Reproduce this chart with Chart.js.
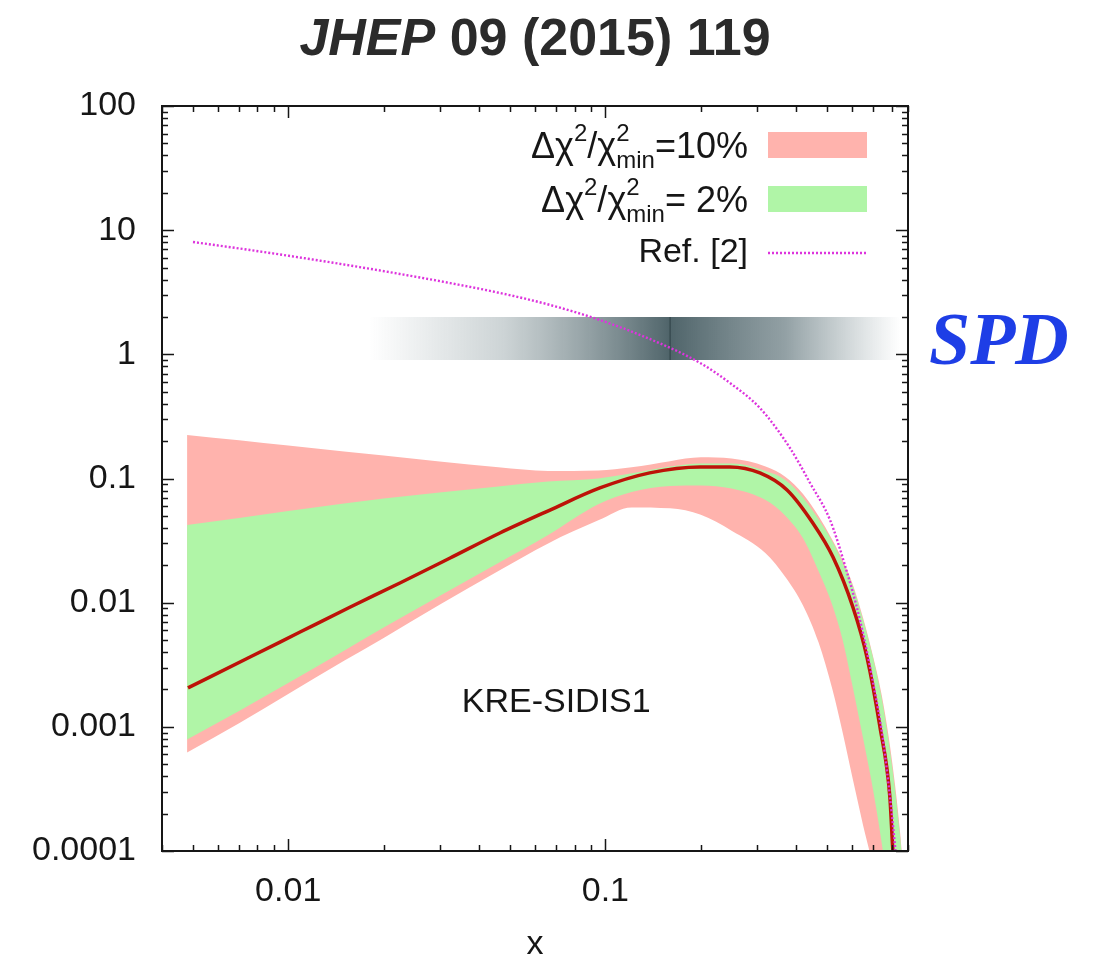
<!DOCTYPE html>
<html>
<head>
<meta charset="utf-8">
<script src="https://cdn.jsdelivr.net/npm/chart.js@4.4.0/dist/chart.umd.min.js"></script>
<style>
  html, body { margin: 0; padding: 0; background: #fff; }
  #wrap { position: relative; width: 1093px; height: 962px; }
  #title { position: absolute; left: 0; top: 11px; width: 1070px; text-align: center;
           font: bold 52px "Liberation Sans", Arial, sans-serif; line-height: 52px; color: #2b2b2b; }
  #spd { position: absolute; left: 929px; top: 302px;
         font: italic bold 74px "Liberation Serif", "Times New Roman", serif; line-height: 74px; color: #1e3ee6; }
</style>
</head>
<body>
<div id="wrap">
  <canvas id="myChart" width="1093" height="962"></canvas>
  <div id="title"><i>JHEP</i> 09 (2015) 119</div>
  <div id="spd">SPD</div>
</div>
<script>
// central fit
var centralX = [0.00483, 0.00758, 0.0109, 0.0157, 0.0225, 0.0324, 0.0465, 0.0669, 0.0961, 0.138, 0.199,
                0.247, 0.307, 0.374, 0.451, 0.522, 0.603, 0.668, 0.734, 0.789, 0.806, 0.848];
var central = [0.00206, 0.00365, 0.0058, 0.00923, 0.0144, 0.0229, 0.0364, 0.0557, 0.0839, 0.111, 0.124,
               0.124, 0.111, 0.0809, 0.0438, 0.0233, 0.00923, 0.00365, 0.001, 0.000272, 0.000102, 0.000016];

// x grid shared by both uncertainty bands
var xGrid = [0.0048, 0.007, 0.01, 0.015, 0.02, 0.03, 0.046, 0.066, 0.095, 0.121, 0.16, 0.2, 0.25,
             0.32, 0.37, 0.42, 0.47, 0.52, 0.56, 0.6, 0.65, 0.7, 0.75, 0.8, 0.85, 0.9];
var band2Up = [0.0423, 0.048, 0.0547, 0.063, 0.069, 0.077, 0.0862, 0.0945, 0.1, 0.11, 0.125, 0.132, 0.132,
               0.115, 0.097, 0.07, 0.047, 0.031, 0.021, 0.014, 0.0072, 0.0035, 0.0015, 0.0005, 0.00013, 0.00002];
var band2Lo = [0.00079, 0.00134, 0.00225, 0.0041, 0.0063, 0.0113, 0.0209, 0.0351, 0.062, 0.078, 0.087, 0.088, 0.083,
               0.067, 0.05, 0.033, 0.018, 0.0095, 0.005, 0.0022, 0.0008, 0.0003, 0.0001, 0.00003, 0.000005, 0.000001];
var band10Up = [0.224, 0.203, 0.184, 0.165, 0.153, 0.137, 0.123, 0.115, 0.116, 0.123, 0.138, 0.148, 0.145,
                0.125, 0.103, 0.075, 0.05, 0.032, 0.022, 0.0145, 0.0075, 0.0036, 0.0016, 0.00055, 0.00014, 0.00002];
var band10Lo = [0.00062, 0.00107, 0.00184, 0.0034, 0.0052, 0.0096, 0.018, 0.03, 0.046, 0.0585, 0.0575, 0.051, 0.038,
                0.025, 0.016, 0.0095, 0.0048, 0.002, 0.0009, 0.0004, 0.00016, 0.00007, 0.00002, 0.000005, 0.000001, 0.0000001];

// Ref. [2] curve
var refX = [0.00501, 0.00758, 0.0109, 0.0157, 0.0225, 0.0324, 0.0465, 0.0669, 0.0961, 0.138, 0.199, 0.247,
            0.307, 0.382, 0.442, 0.511, 0.569, 0.635, 0.7, 0.75, 0.8, 0.85];
var refY = [8.03, 6.92, 6.02, 5.19, 4.44, 3.75, 3.12, 2.5, 1.89, 1.33, 0.852, 0.588,
            0.37, 0.176, 0.092, 0.0463, 0.0201, 0.00725, 0.0022, 0.0008, 0.0002, 0.00004];

// SPD coverage strip
var spdX = [0.018, 0.85];
var spdTop = [2, 2];
var spdBottom = [0.9, 0.9];
var spdMark = 0.16;

var xTicks = [0.01, 0.1];
var yTicks = [0.0001, 0.001, 0.01, 0.1, 1, 10, 100];

var FONT = '"Liberation Sans", Arial, sans-serif';
var INK = '#161616';
var PINK = '#ffb3ad';
var GREEN = '#b0f5a7';
var MAGENTA = '#dd34dd';

function pts(xs, ys) {
  return xs.map(function (x, i) { return { x: x, y: ys[i] }; });
}

function fmt(v) {
  var e = Math.round(Math.log10(v));
  return e >= 0 ? String(Math.pow(10, e)) : '0.' + '0'.repeat(-e - 1) + '1';
}

function spdGradient(c) {
  var chart = c.chart;
  var xs = chart.scales.x;
  if (!chart.chartArea || !xs) return 'rgba(0,0,0,0)';
  var x0 = xs.getPixelForValue(spdX[0]), x1 = xs.getPixelForValue(spdX[1]);
  var mid = (xs.getPixelForValue(spdMark) - x0) / (x1 - x0);
  var g = chart.ctx.createLinearGradient(x0, 0, x1, 0);
  g.addColorStop(0, 'rgba(110,130,135,0)');
  g.addColorStop(mid * 0.45, 'rgba(110,130,135,0.35)');
  g.addColorStop(mid, 'rgba(70,92,98,0.95)');
  g.addColorStop(mid + (1 - mid) * 0.5, 'rgba(100,120,126,0.7)');
  g.addColorStop(1, 'rgba(120,140,145,0)');
  return g;
}

// draws Δχ²/χ²_min=... right aligned at (right, base)
function drawChiLabel(ctx, tail, right, base) {
  var big = '36px ' + FONT, small = '24px ' + FONT;
  var parts = [
    { t: 'Δχ', f: big, dy: 0 },
    { t: '2', f: small, dy: -17 },
    { t: '/', f: big, dy: 0 },
    { t: 'χ', f: big, dy: 0 },
    { t: '2', f: small, dy: -17, stack: 'min' },
    { t: tail, f: big, dy: 0 }
  ];
  var total = 0;
  parts.forEach(function (p) {
    ctx.font = p.f;
    p.w = ctx.measureText(p.t).width;
    if (p.stack) p.w = Math.max(p.w, ctx.measureText(p.stack).width);
    total += p.w;
  });
  var x = right - total;
  ctx.textAlign = 'left';
  ctx.textBaseline = 'alphabetic';
  parts.forEach(function (p) {
    ctx.font = p.f;
    ctx.fillText(p.t, x, base + p.dy);
    if (p.stack) ctx.fillText(p.stack, x, base + 10);
    x += p.w;
  });
}

var frameTicks = {
  id: 'frameTicks',
  afterDraw: function (chart) {
    var ctx = chart.ctx, a = chart.chartArea, xs = chart.scales.x, ys = chart.scales.y;
    ctx.save();
    ctx.strokeStyle = INK;
    ctx.lineWidth = 1.5;
    ctx.beginPath();
    var e, m, v, p, len;
    for (e = -3; e <= 0; e++) {
      for (m = 1; m <= 9; m++) {
        v = m * Math.pow(10, e);
        if (v < xs.min || v > xs.max) continue;
        p = Math.round(xs.getPixelForValue(v)) + 0.5;
        len = m === 1 ? 12 : 6;
        ctx.moveTo(p, a.bottom); ctx.lineTo(p, a.bottom - len);
        ctx.moveTo(p, a.top); ctx.lineTo(p, a.top + len);
      }
    }
    for (e = -4; e <= 2; e++) {
      for (m = 1; m <= 9; m++) {
        v = m * Math.pow(10, e);
        if (v < ys.min || v > ys.max) continue;
        p = Math.round(ys.getPixelForValue(v)) + 0.5;
        len = m === 1 ? 12 : 6;
        ctx.moveTo(a.left, p); ctx.lineTo(a.left + len, p);
        ctx.moveTo(a.right, p); ctx.lineTo(a.right - len, p);
      }
    }
    ctx.stroke();
    ctx.lineWidth = 2;
    ctx.strokeRect(a.left, a.top, a.right - a.left, a.bottom - a.top);

    // key
    ctx.fillStyle = INK;
    drawChiLabel(ctx, '=10%', 748, 158);
    drawChiLabel(ctx, '=\u00a02%', 748, 212);
    ctx.font = '34px ' + FONT;
    ctx.textAlign = 'right';
    ctx.fillText('Ref. [2]', 748, 262);
    ctx.fillStyle = PINK;
    ctx.fillRect(768, 132, 99, 26);
    ctx.fillStyle = GREEN;
    ctx.fillRect(768, 186, 99, 26);
    ctx.strokeStyle = MAGENTA;
    ctx.lineWidth = 2.4;
    ctx.setLineDash([2, 2]);
    ctx.beginPath();
    ctx.moveTo(768, 253); ctx.lineTo(867, 253);
    ctx.stroke();
    ctx.setLineDash([]);

    // fit label
    ctx.fillStyle = INK;
    ctx.font = '34px ' + FONT;
    ctx.textAlign = 'center';
    ctx.textBaseline = 'middle';
    ctx.fillText('KRE-SIDIS1', xs.getPixelForValue(0.07), ys.getPixelForValue(0.00156));
    ctx.restore();
  }
};

var ctx = document.getElementById('myChart').getContext('2d');
var myChart = new Chart(ctx, {
  type: 'line',
  data: {
    datasets: [{
      label: 'Ref. [2]',
      data: pts(refX, refY),
      borderColor: MAGENTA,
      borderWidth: 2.4,
      borderDash: [2, 2],
      fill: false,
      order: 1
    }, {
      label: 'fit',
      data: pts(centralX, central),
      borderColor: '#bd1208',
      borderWidth: 3.5,
      fill: false,
      order: 2
    }, {
      label: '2% upper',
      data: pts(xGrid, band2Up),
      borderWidth: 0,
      borderColor: 'rgba(0,0,0,0)',
      backgroundColor: GREEN,
      fill: '+1',
      order: 3
    }, {
      label: '2% lower',
      data: pts(xGrid, band2Lo),
      borderWidth: 0,
      borderColor: 'rgba(0,0,0,0)',
      fill: false,
      order: 3
    }, {
      label: '10% upper',
      data: pts(xGrid, band10Up),
      borderWidth: 0,
      borderColor: 'rgba(0,0,0,0)',
      backgroundColor: PINK,
      fill: '+1',
      order: 4
    }, {
      label: '10% lower',
      data: pts(xGrid, band10Lo),
      borderWidth: 0,
      borderColor: 'rgba(0,0,0,0)',
      fill: false,
      order: 4
    }, {
      label: 'SPD top',
      data: pts(spdX, spdTop),
      borderWidth: 0,
      borderColor: 'rgba(0,0,0,0)',
      backgroundColor: spdGradient,
      fill: '+1',
      order: 6
    }, {
      label: 'SPD bottom',
      data: pts(spdX, spdBottom),
      borderWidth: 0,
      borderColor: 'rgba(0,0,0,0)',
      fill: false,
      order: 6
    }, {
      label: 'SPD mark',
      data: pts([spdMark, spdMark], [spdBottom[0], spdTop[0]]),
      borderWidth: 1.2,
      borderColor: '#33464b',
      fill: false,
      order: 5
    }]
  },
  options: {
    responsive: false,
    animation: false,
    devicePixelRatio: 1,
    clip: 0,
    layout: { padding: { top: 106, right: 185, left: 0, bottom: 0 } },
    elements: {
      point: { radius: 0 },
      line: { cubicInterpolationMode: 'monotone' }
    },
    plugins: { legend: { display: false }, tooltip: { enabled: false } },
    scales: {
      x: {
        type: 'logarithmic',
        min: 0.004,
        max: 0.9,
        grid: { display: false },
        border: { display: false },
        afterBuildTicks: function (s) { s.ticks = xTicks.map(function (v) { return { value: v }; }); },
        afterFit: function (s) { s.height = 111; },
        ticks: {
          autoSkip: false, maxRotation: 0, padding: 12, color: INK,
          font: { family: FONT, size: 34 },
          callback: function (v) { return fmt(v); }
        },
        title: { display: true, text: 'x', color: INK, padding: 0, font: { family: FONT, size: 34, lineHeight: 1 } }
      },
      y: {
        type: 'logarithmic',
        min: 0.0001,
        max: 100,
        grid: { display: false },
        border: { display: false },
        afterBuildTicks: function (s) { s.ticks = yTicks.map(function (v) { return { value: v }; }); },
        afterFit: function (s) { s.width = 162; },
        ticks: {
          autoSkip: false, padding: 18, color: INK,
          font: { family: FONT, size: 34 },
          callback: function (v) { return fmt(v); }
        }
      }
    }
  },
  plugins: [frameTicks]
});
</script>
</body>
</html>
